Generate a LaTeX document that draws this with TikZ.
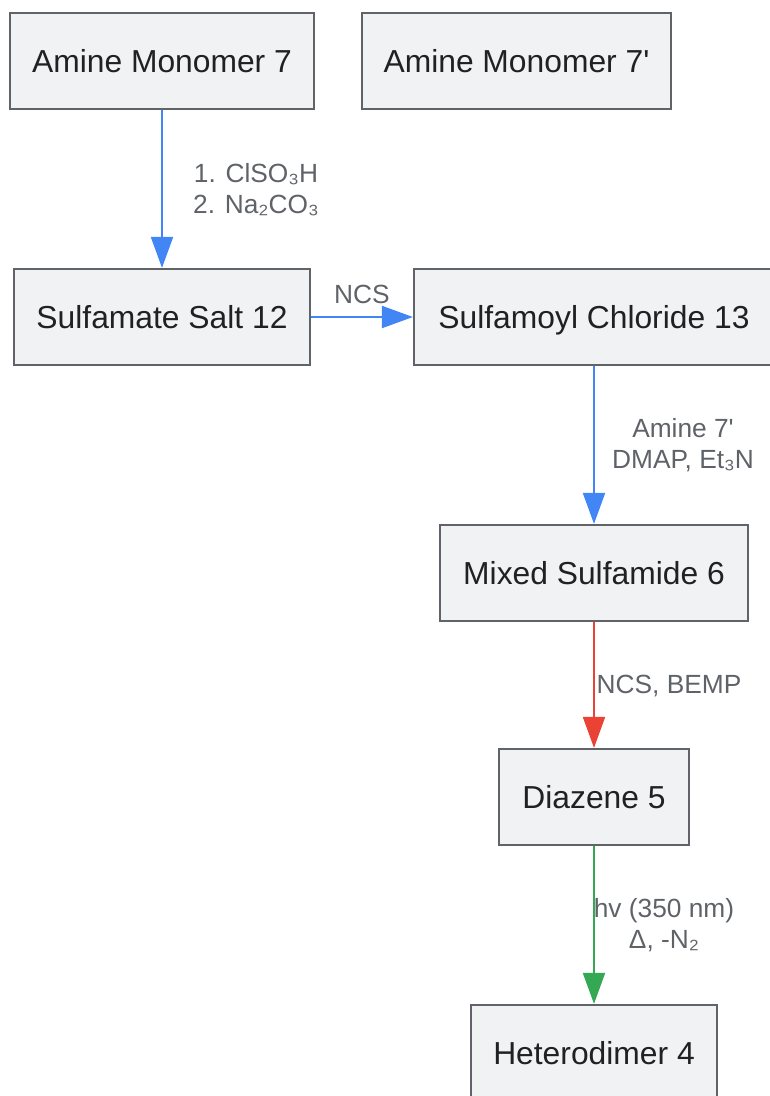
\documentclass[tikz,border=0pt]{standalone}
\usepackage{fontspec}
\setmainfont{Liberation Sans}[Ligatures=TeXOff]
\usetikzlibrary{arrows.meta}
\definecolor{boxfill}{HTML}{F1F2F4}
\definecolor{boxline}{HTML}{606368}
\definecolor{boxtext}{HTML}{202124}
\definecolor{labtext}{HTML}{5F6368}
\definecolor{cblue}{HTML}{4285F4}
\definecolor{cred}{HTML}{EA4335}
\definecolor{cgreen}{HTML}{34A853}
\tikzset{
  box/.style={draw=boxline, fill=boxfill, line width=2.2pt, inner sep=0pt,
    minimum height=96pt, text=boxtext, font=\fontsize{31.8}{38}\selectfont,
    text height=29.1pt, text depth=6.4pt},
  lab/.style={text=labtext, font=\fontsize{26.3}{31}\selectfont, align=center, inner sep=0pt},
  conn/.style={line width=2pt, -{Triangle[length=31pt,width=22pt]}},
}
\begin{document}
\begin{tikzpicture}[x=1pt,y=-1pt]
\useasboundingbox (0,0) rectangle (770,1096);
\begin{scope}
\clip (0,0) rectangle (770,1096);
\node[box, minimum width=304pt] (a7) at (162,61) {Amine Monomer 7};
\node[box, minimum width=309pt] (a7p) at (516.5,61) {Amine Monomer 7'};
\node[box, minimum width=296pt] (s12) at (162,317) {Sulfamate Salt 12};
\node[box, minimum width=360pt] (s13) at (594,317) {Sulfamoyl Chloride 13};
\node[box, minimum width=308pt] (m6) at (594,573) {Mixed Sulfamide 6};
\node[box, minimum width=190pt] (d5) at (594,797) {Diazene 5};
\node[box, minimum width=246pt] (h4) at (594,1053) {Heterodimer 4};
\end{scope}
\draw[conn, cblue] (a7) -- (s12);
\draw[conn, cblue] (s12) -- (s13);
\draw[conn, cblue] (s13) -- (m6);
\draw[conn, cred] (m6) -- (d5);
\draw[conn, cgreen] (d5) -- (h4);
\node[lab] (l1) at (256,189.5) {1. ClSO₃H\\2. Na₂CO₃};
\node[lab] (l2) at (362,294) {NCS};
\node[lab] (l3) at (683,445.5) {Amine 7'\\DMAP, Et₃N};
\node[lab] (l4) at (669,686) {NCS, BEMP};
\node[lab] (l5) at (664,925.5) {hv (350 nm)\\Δ, -N₂};
\end{tikzpicture}
\end{document}
